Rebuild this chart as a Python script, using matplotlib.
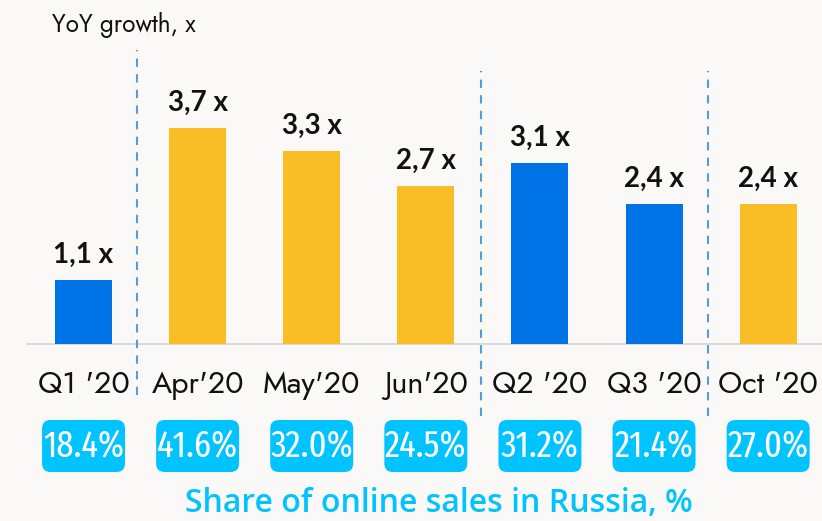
import matplotlib
matplotlib.use("Agg")
import matplotlib.pyplot as plt
from matplotlib.patches import FancyBboxPatch

periods = ["Q1 '20", "Apr'20", "May'20", "Jun'20", "Q2 '20", "Q3 '20", "Oct '20"]
yoy_growth = [1.1, 3.7, 3.3, 2.7, 3.1, 2.4, 2.4]
is_quarter = [True, False, False, False, True, True, False]
online_share = [18.4, 41.6, 32.0, 24.5, 31.2, 21.4, 27.0]

BLUE = "#0073e6"
YELLOW = "#f9bd25"
CYAN = "#00c3ff"
BG = "#faf9f7"
INK = "#111111"

plt.rcParams["font.family"] = ["Jost", "Lato", "DejaVu Sans"]
narrow = ["Fira Sans Extra Condensed", "Roboto Condensed", "DejaVu Sans"]
heavy = ["Lato", "DejaVu Sans"]

fig = plt.figure(figsize=(8.22, 5.21), dpi=100)
fig.set_facecolor(BG)
ax = fig.add_axes([0, 0, 1, 1])
ax.set_facecolor(BG)
ax.axis("off")

# full-figure axes: 114.1 px per bar slot, 58.5 px per 1x of growth
ax.set_xlim(-0.732, 6.472)
ax.set_ylim(-3.026, 5.88)

xs = list(range(len(periods)))
colors = [BLUE if q else YELLOW for q in is_quarter]
ax.bar(xs, yoy_growth, width=0.5, color=colors, zorder=2)
ax.plot([-0.495, 6.472], [0, 0], color="#d4d4d4", lw=1.2, zorder=1)

for x, v in zip(xs, yoy_growth):
    ax.text(x, v + 0.2, f"{v:.1f} x".replace(".", ","), ha="center", va="bottom",
            fontsize=20, fontweight="bold", color=INK, family=heavy)

for x, lab in zip(xs, periods):
    ax.text(x, -0.70, lab, ha="center", va="center", fontsize=22, color=INK)

# group separators
for x, y0, y1 in [(0.469, -0.87, 5.03), (3.484, -1.23, 4.67), (5.473, -1.23, 4.67)]:
    ax.plot([x, x], [y0, y1], color="#5b9bd5", lw=1.5, ls=(0, (4, 3.5)), zorder=1)

# share of online sales badges
bw, bh = 0.727, 0.889
aspect = 114.1 / 58.5
for x, s in zip(xs, online_share):
    ax.add_patch(FancyBboxPatch((x - bw / 2, -1.744 - bh / 2), bw, bh,
                                boxstyle="round,pad=0,rounding_size=0.075",
                                mutation_aspect=aspect, fc=CYAN, ec="none"))
    ax.text(x, -1.744, f"{s:.1f}%", ha="center", va="center", fontsize=27,
            color="white", family=narrow)

ax.text(3.11, -2.72, "Share of online sales in Russia, %", ha="center", va="center",
        fontsize=23, fontweight="semibold", color=CYAN,
        family=["Open Sans", "Lato", "DejaVu Sans"])
ax.text(-0.276, 5.45, "YoY growth, x", ha="left", va="center", fontsize=17.5,
        color=INK)

fig.savefig("out.png", dpi=100, facecolor=BG)
